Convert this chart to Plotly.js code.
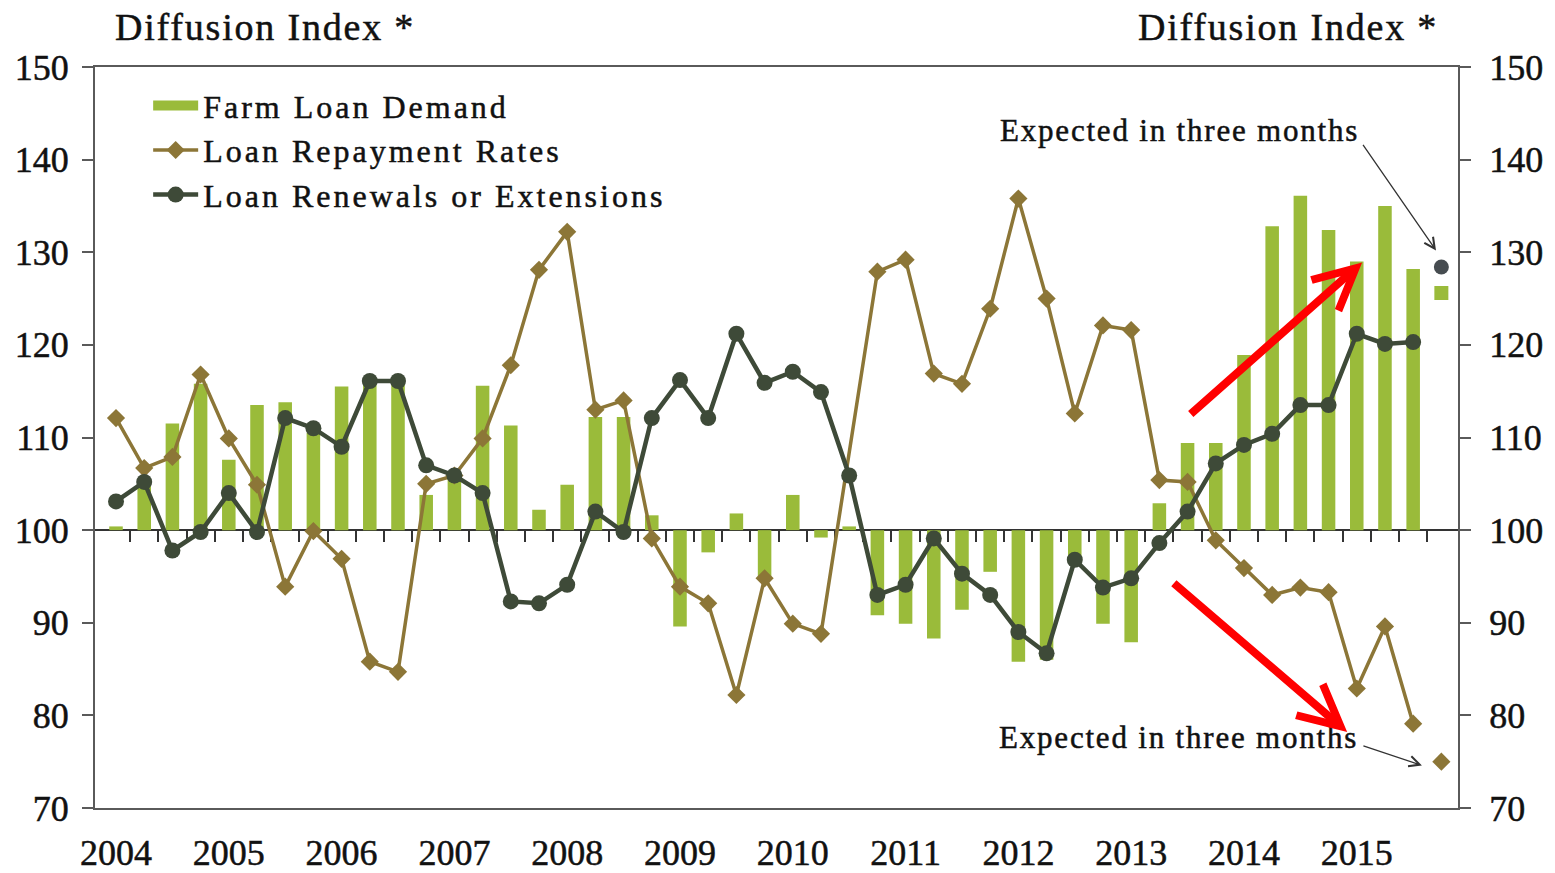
<!DOCTYPE html>
<html>
<head>
<meta charset="utf-8">
<script src="https://cdn.plot.ly/plotly-3.0.1.min.js"></script>
<style>
html,body{margin:0;padding:0;background:#ffffff;}
#chart{width:1555px;height:873px;}
.legendtext{letter-spacing:3px;}
.annotation-text{letter-spacing:1.8px;}
#chart .legendtext, #chart .annotation-text, #chart .xtick text, #chart .ytick text, #chart .y2tick text{stroke:#111111;stroke-width:0.5px;}
</style>
</head>
<body>
<div id="chart"></div>
<script>
// ---- Data (quarterly diffusion indexes) ----
const years = [2004, 2005, 2006, 2007, 2008, 2009, 2010, 2011, 2012, 2013, 2014, 2015];
const quarterNames = ['Q1', 'Q2', 'Q3', 'Q4'];
const quarterLabels = [];
years.forEach(function (y) { quarterNames.forEach(function (q) { quarterLabels.push(y + ' ' + q); }); });
const observedQuarters = quarterLabels.slice(0, 47);      // 2004 Q1 .. 2015 Q3
const expectedQuarter = quarterLabels[47];                 // 2015 Q4 (expected)

const farmLoanDemand = [
  100.4, 104.8, 111.5, 115.8, 107.6, 113.5, 113.8, 110.5, 115.5, 116.0, 116.0, 103.8,
  106.2, 115.6, 111.3, 102.2, 104.9, 112.2, 112.2, 101.6, 89.6, 97.6, 101.8, 94.8,
  103.8, 99.2, 100.4, 90.8, 89.9, 88.3, 91.4, 95.5, 85.8, 86.0, 96.5, 89.9,
  87.9, 102.9, 109.4, 109.4, 118.9, 132.8, 136.1, 132.4, 129.0, 135.0, 128.2
];
const loanRepaymentRates = [
  112.1, 106.7, 107.9, 116.8, 109.9, 104.9, 93.9, 99.9, 96.9, 85.8, 84.7, 105.0,
  105.9, 109.9, 117.8, 128.1, 132.2, 113.0, 114.0, 99.1, 93.9, 92.1, 82.2, 94.8,
  89.9, 88.8, null, 127.9, 129.2, 116.9, 115.8, 123.9, 135.8, 125.0, 112.6, 122.1,
  121.6, 105.4, 105.2, 98.9, 95.9, 93.0, 93.8, 93.3, 82.9, 89.6, 79.1
];
const loanRenewals = [
  103.1, 105.2, 97.8, 99.8, 104.0, 99.8, 112.1, 111.0, 109.0, 116.1, 116.1, 107.0,
  105.9, 104.0, 92.3, 92.1, 94.1, 102.0, 99.8, 112.1, 116.2, 112.1, 121.2, 115.9,
  117.1, 114.9, 105.9, 93.0, 94.1, 99.1, 95.3, 93.0, 89.0, 86.7, 96.8, 93.8,
  94.8, 98.6, 102.0, 107.2, 109.2, 110.4, 113.5, 113.5, 121.2, 120.1, 120.3
];
const expectedDemand = [125.6];
const expectedRepayment = [75.0];
const expectedRenewals = [128.4];

const baseline = 100;
const yTicks = [70, 80, 90, 100, 110, 120, 130, 140, 150];

// ---- Derived positions (quarter index on a numeric axis) ----
const xObs = observedQuarters.map(function (q, i) { return i; });
const xExp = [quarterLabels.indexOf(expectedQuarter)];
const yearTickVals = quarterLabels.map(function (q, i) { return i; }).filter(function (i) { return quarterLabels[i].endsWith('Q1'); });
const yearTickText = yearTickVals.map(function (i) { return quarterLabels[i].slice(0, 4); });
const quarterBoundaries = xObs.map(function (i) { return i + 0.5; });
const xRange = [-0.745, 47.59];

const GREEN = '#9ABB3A';
const BROWN = '#8C7637';
const DARK = '#3E4A38';
const AXIS = '#5a5a5a';
const FONT = 'Liberation Serif, "Times New Roman", serif';
const TEXT = '#111111';

const traces = [
  {
    type: 'bar', name: 'Farm Loan Demand', showlegend: false,
    x: xObs, y: farmLoanDemand.map(function (v) { return v - baseline; }), base: baseline,
    width: 0.48, marker: { color: GREEN },
    text: observedQuarters, customdata: farmLoanDemand, textposition: 'none',
    hovertemplate: '%{text}: %{customdata}<extra>Farm Loan Demand</extra>'
  },
  // legend swatch for the bars (wide rectangle, as in the reference)
  {
    type: 'scatter', mode: 'lines', name: 'Farm Loan Demand', x: [null], y: [null],
    line: { color: GREEN, width: 18 }, hoverinfo: 'skip'
  },
  {
    type: 'scatter', mode: 'lines+markers', name: 'Loan Repayment Rates',
    x: xObs, y: loanRepaymentRates, connectgaps: true,
    line: { color: BROWN, width: 3.5 },
    marker: { symbol: 'diamond', size: 14, color: BROWN },
    text: observedQuarters, hovertemplate: '%{text}: %{y}<extra>Loan Repayment Rates</extra>'
  },
  {
    type: 'scatter', mode: 'lines+markers', name: 'Loan Renewals or Extensions',
    x: xObs, y: loanRenewals,
    line: { color: DARK, width: 4.5 },
    marker: { symbol: 'circle', size: 16, color: DARK },
    text: observedQuarters, hovertemplate: '%{text}: %{y}<extra>Loan Renewals or Extensions</extra>'
  },
  {
    type: 'scatter', mode: 'markers', name: 'Farm Loan Demand (expected)', showlegend: false,
    x: xExp, y: expectedDemand, marker: { symbol: 'square', size: 14, color: GREEN },
    hovertemplate: expectedQuarter + ' (expected): %{y}<extra></extra>'
  },
  {
    type: 'scatter', mode: 'markers', name: 'Loan Repayment Rates (expected)', showlegend: false,
    x: xExp, y: expectedRepayment, marker: { symbol: 'diamond', size: 14, color: BROWN },
    hovertemplate: expectedQuarter + ' (expected): %{y}<extra></extra>'
  },
  {
    type: 'scatter', mode: 'markers', name: 'Loan Renewals (expected)', showlegend: false,
    x: xExp, y: expectedRenewals, marker: { symbol: 'circle', size: 15, color: '#464C50' },
    hovertemplate: expectedQuarter + ' (expected): %{y}<extra></extra>'
  },
  // helpers so the baseline axis and right-hand axis are drawn
  { type: 'scatter', x: [null], y: [null], xaxis: 'x2', yaxis: 'y', showlegend: false, hoverinfo: 'skip' },
  { type: 'scatter', x: [null], y: [null], xaxis: 'x', yaxis: 'y2', showlegend: false, hoverinfo: 'skip' }
];

const layout = {
  width: 1555, height: 873,
  margin: { l: 95, r: 97, t: 67, b: 65, pad: 0 },
  paper_bgcolor: '#ffffff', plot_bgcolor: '#ffffff',
  font: { family: FONT, color: TEXT, size: 36 },
  showlegend: true,
  hovermode: 'closest',
  legend: {
    x: 0.039, y: 0.985, xanchor: 'left', yanchor: 'top',
    bgcolor: 'rgba(0,0,0,0)', borderwidth: 0,
    font: { family: FONT, size: 32, color: TEXT },
    itemwidth: 45, tracegroupgap: 0, traceorder: 'normal'
  },
  xaxis: {
    range: xRange, tickmode: 'array', tickvals: yearTickVals, ticktext: yearTickText,
    ticks: '', showline: true, mirror: true, linecolor: AXIS, linewidth: 2,
    showgrid: false, zeroline: false, tickfont: { family: FONT, size: 36, color: TEXT },
    ticklabelstandoff: 12, fixedrange: true
  },
  xaxis2: {
    overlaying: 'x', anchor: 'free', position: (baseline - 70) / (150 - 70), side: 'bottom',
    range: xRange, tickmode: 'array', tickvals: quarterBoundaries,
    ticks: 'outside', ticklen: 11, tickwidth: 2, tickcolor: '#333333',
    showticklabels: false, showline: true, linecolor: '#333333', linewidth: 2,
    showgrid: false, zeroline: false, layer: 'below traces', fixedrange: true
  },
  yaxis: {
    range: [70, 150], tickmode: 'array', tickvals: yTicks,
    ticks: 'outside', ticklen: 11, tickwidth: 2, tickcolor: AXIS,
    showline: true, linecolor: AXIS, linewidth: 2, showgrid: false, zeroline: false,
    tickfont: { family: FONT, size: 36, color: TEXT }, ticklabelstandoff: 6, fixedrange: true
  },
  yaxis2: {
    overlaying: 'y', side: 'right', anchor: 'x', range: [70, 150], tickmode: 'array', tickvals: yTicks,
    ticks: 'outside', ticklen: 11, tickwidth: 2, tickcolor: AXIS,
    showline: true, linecolor: AXIS, linewidth: 2, showgrid: false, zeroline: false,
    tickfont: { family: FONT, size: 36, color: TEXT }, ticklabelstandoff: 11, fixedrange: true
  },
  annotations: [
    { text: 'Diffusion Index *', xref: 'paper', yref: 'paper', x: 0.0132, y: 1.054, xanchor: 'left', yanchor: 'middle',
      showarrow: false, font: { family: FONT, size: 38, color: TEXT } },
    { text: 'Diffusion Index *', xref: 'paper', yref: 'paper', x: 0.9868, y: 1.054, xanchor: 'right', yanchor: 'middle',
      showarrow: false, font: { family: FONT, size: 38, color: TEXT } },
    { text: 'Expected in three months', xref: 'x', yref: 'y', x: 37.7, y: 143.1, xanchor: 'center', yanchor: 'middle',
      showarrow: false, font: { family: FONT, size: 31, color: TEXT } },
    { text: 'Expected in three months', xref: 'x', yref: 'y', x: 37.67, y: 77.6, xanchor: 'center', yanchor: 'middle',
      showarrow: false, font: { family: FONT, size: 31, color: TEXT } },
    { text: '', xref: 'x', yref: 'y', x: 46.81, y: 130.2, ax: -74, ay: -107, showarrow: true,
      arrowhead: 5, arrowsize: 1.6, arrowwidth: 1.3, arrowcolor: '#333333' },
    { text: '', xref: 'x', yref: 'y', x: 46.31, y: 74.6, ax: -60, ay: -20, showarrow: true,
      arrowhead: 5, arrowsize: 1.6, arrowwidth: 1.3, arrowcolor: '#333333' },
    { text: '', xref: 'x', yref: 'y', axref: 'x', ayref: 'y', x: 44.19, y: 128.9, ax: 38.06, ay: 112.4, showarrow: true,
      arrowhead: 5, arrowsize: 1.0, arrowwidth: 8, arrowcolor: '#FF0000' },
    { text: '', xref: 'x', yref: 'y', axref: 'x', ayref: 'y', x: 43.66, y: 78.2, ax: 37.46, ay: 94.4, showarrow: true,
      arrowhead: 5, arrowsize: 1.0, arrowwidth: 8, arrowcolor: '#FF0000' }
  ]
};

Plotly.newPlot('chart', traces, layout, { displayModeBar: false, responsive: false });
</script>
</body>
</html>
